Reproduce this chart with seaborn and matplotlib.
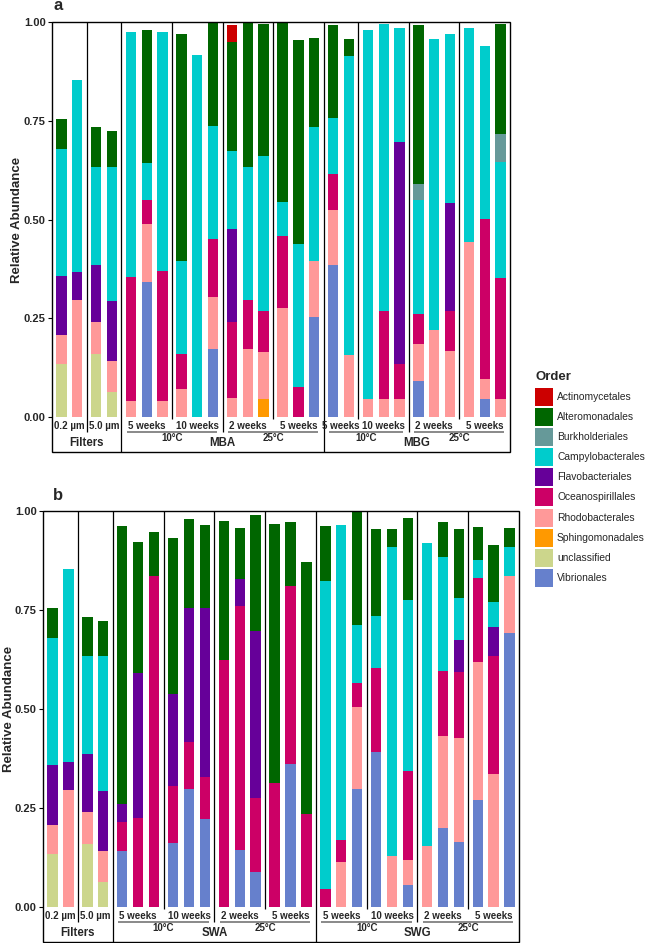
import numpy as np
import pandas as pd
import matplotlib
matplotlib.use("Agg")
import matplotlib.pyplot as plt
import seaborn as sns
from matplotlib.patches import Rectangle

# --- Orders (legend) and colours ---
orders = ["Actinomycetales", "Alteromonadales", "Burkholderiales", "Campylobacterales",
          "Flavobacteriales", "Oceanospirillales", "Rhodobacterales", "Sphingomonadales",
          "unclassified", "Vibrionales"]
order_colors = ["#CC0000", "#006600", "#669999", "#00CCCC", "#660099",
                "#CC0066", "#FF9999", "#FF9900", "#CCD68C", "#6680CC"]

# --- Panel a: strip labels ---
a_facets = ["0.2 µm", "5.0 µm", "5 weeks", "10 weeks", "2 weeks", "5 weeks",
            "5 weeks", "10 weeks", "2 weeks", "5 weeks"]
a_facet_n = [2, 2, 3, 3, 3, 3, 2, 3, 3, 3]
a_temps = [None, None, "10°C", "10°C", "25°C", "25°C", "10°C", "10°C", "25°C", "25°C"]
a_sites = ["Filters", "Filters", "MBA", "MBA", "MBA", "MBA", "MBG", "MBG", "MBG", "MBG"]

# --- Panel a: relative abundance per order (one value per bar) ---
a_actino = [0, 0, 0, 0, 0, 0, 0, 0, 0, 0, 0.043, 0, 0, 0, 0, 0, 0, 0, 0, 0, 0, 0, 0, 0, 0, 0, 0]
a_altero = [0.076, 0, 0.099, 0.089, 0, 0.339, 0, 0.574, 0, 0.263, 0.275, 0.368, 0.334,
            0.455, 0.515, 0.226, 0.236, 0.044, 0, 0, 0, 0.402, 0, 0, 0, 0, 0.280]
a_burk = [0, 0, 0, 0, 0, 0, 0, 0, 0, 0, 0, 0, 0, 0, 0, 0, 0, 0, 0, 0, 0, 0.041, 0, 0, 0, 0, 0.070]
a_campy = [0.321, 0.487, 0.248, 0.341, 0.621, 0.093, 0.605, 0.236, 0.916, 0.286, 0.198, 0.335,
           0.393, 0.087, 0.363, 0.337, 0.141, 0.757, 0.936, 0.727, 0.289, 0.288, 0.736, 0.427,
           0.542, 0.438, 0.295]
a_flavo = [0.150, 0.072, 0.146, 0.152, 0, 0, 0, 0, 0, 0, 0.235, 0, 0, 0, 0, 0, 0, 0,
           0, 0, 0.564, 0, 0, 0.274, 0, 0, 0]
a_oceano = [0, 0, 0, 0, 0.314, 0.060, 0.329, 0.088, 0, 0.148, 0.194, 0.125, 0.104, 0.182,
            0.076, 0, 0.091, 0, 0, 0.224, 0.088, 0.077, 0, 0.101, 0, 0.405, 0.305]
a_rhodo = [0.074, 0.295, 0.081, 0.077, 0.040, 0.148, 0.041, 0.072, 0, 0.131, 0.047, 0.172,
           0.120, 0.276, 0, 0.142, 0.139, 0.156, 0.045, 0.045, 0.045, 0.095, 0.220, 0.168,
           0.444, 0.052, 0.046]
a_sphingo = [0, 0, 0, 0, 0, 0, 0, 0, 0, 0, 0, 0, 0.045, 0, 0, 0, 0, 0, 0, 0, 0, 0, 0, 0, 0, 0, 0]
a_unclass = [0.134, 0, 0.159, 0.064, 0, 0, 0, 0, 0, 0, 0, 0, 0, 0, 0, 0, 0, 0, 0, 0, 0, 0,
             0, 0, 0, 0, 0]
a_vibrio = [0, 0, 0, 0, 0, 0.341, 0, 0, 0, 0.172, 0, 0, 0, 0, 0, 0.254, 0.385, 0, 0, 0, 0,
            0.090, 0, 0, 0, 0.045, 0]

# --- Panel b: strip labels ---
b_facets = ["0.2 µm", "5.0 µm", "5 weeks", "10 weeks", "2 weeks", "5 weeks",
            "5 weeks", "10 weeks", "2 weeks", "5 weeks"]
b_facet_n = [2, 2, 3, 3, 3, 3, 3, 3, 3, 3]
b_temps = [None, None, "10°C", "10°C", "25°C", "25°C", "10°C", "10°C", "25°C", "25°C"]
b_sites = ["Filters", "Filters", "SWA", "SWA", "SWA", "SWA", "SWG", "SWG", "SWG", "SWG"]

# --- Panel b: relative abundance per order ---
b_altero = [0.076, 0, 0.099, 0.089, 0.702, 0.331, 0.110, 0.394, 0.225, 0.209, 0.350, 0.128,
            0.293, 0.656, 0.161, 0.634, 0.139, 0, 0.286, 0.220, 0.046, 0.208, 0, 0.087,
            0.175, 0.083, 0.143, 0.049]
b_campy = [0.321, 0.487, 0.248, 0.341, 0, 0, 0, 0, 0, 0, 0, 0, 0, 0, 0, 0, 0.778, 0.797,
           0.147, 0.130, 0.780, 0.431, 0.765, 0.288, 0.106, 0.045, 0.062, 0.071]
b_flavo = [0.150, 0.072, 0.146, 0.152, 0.046, 0.365, 0, 0.231, 0.340, 0.427, 0, 0.068,
           0.421, 0, 0, 0, 0, 0, 0, 0, 0, 0, 0, 0, 0.081, 0, 0.074, 0]
b_oceano = [0, 0, 0, 0, 0.074, 0.226, 0.836, 0.144, 0.119, 0.107, 0.624, 0.617, 0.187,
            0.312, 0.449, 0.236, 0.046, 0.054, 0.060, 0.212, 0, 0.225, 0, 0.165, 0.165,
            0.214, 0.299, 0]
b_rhodo = [0.074, 0.295, 0.081, 0.077, 0, 0, 0, 0, 0, 0, 0, 0, 0, 0, 0, 0, 0, 0.114,
           0.208, 0, 0.128, 0.063, 0.153, 0.231, 0.265, 0.349, 0.335, 0.145]
b_unclass = [0.134, 0, 0.159, 0.064, 0, 0, 0, 0, 0, 0, 0, 0, 0, 0, 0, 0, 0, 0, 0, 0, 0, 0,
             0, 0, 0, 0, 0, 0]
b_vibrio = [0, 0, 0, 0, 0.141, 0, 0, 0.162, 0.297, 0.222, 0, 0.143, 0.088, 0, 0.361, 0,
            0, 0, 0.297, 0.392, 0, 0.056, 0, 0.200, 0.163, 0.269, 0, 0.692]

a_layers = {"Actinomycetales": a_actino, "Alteromonadales": a_altero,
            "Burkholderiales": a_burk, "Campylobacterales": a_campy,
            "Flavobacteriales": a_flavo, "Oceanospirillales": a_oceano,
            "Rhodobacterales": a_rhodo, "Sphingomonadales": a_sphingo,
            "unclassified": a_unclass, "Vibrionales": a_vibrio}
b_layers = {"Alteromonadales": b_altero, "Campylobacterales": b_campy,
            "Flavobacteriales": b_flavo, "Oceanospirillales": b_oceano,
            "Rhodobacterales": b_rhodo, "unclassified": b_unclass, "Vibrionales": b_vibrio}

W, H = 650, 943
sns.set_theme(style="ticks")
plt.rcParams['font.family'] = ['Liberation Sans', 'DejaVu Sans']
palette = dict(zip(orders, order_colors))

fig = plt.figure(figsize=(W / 100, H / 100), dpi=100)


def draw_panel(rect_px, label_x, facets, facet_n, temps, sites, layers, letter):
    left, top, right, zero = rect_px
    ax = fig.add_axes([left / W, 1 - zero / H, (right - left) / W, (zero - top) / H])
    h_px = zero - top

    def fy(px):
        return -px / h_px

    starts = np.round(np.cumsum([0] + [n + 0.2 for n in facet_n[:-1]]), 3)
    pos = np.round(np.concatenate([s + 0.6 + np.arange(n) for s, n in zip(starts, facet_n)]), 3)
    ends = np.round(starts + np.array(facet_n) + 0.2, 3)
    total = ends[-1]

    rows = []
    for name, vals in layers.items():
        for p, v in zip(pos, vals):
            if v > 0:
                rows.append({"x": p, "Order": name, "value": v})
    df = pd.DataFrame(rows)
    edges = np.unique(np.round(np.concatenate([pos - 0.5, pos + 0.5]), 3)).tolist()
    hue_order = [o for o in orders if o in layers]
    sns.histplot(data=df, x="x", weights="value", hue="Order", hue_order=hue_order,
                 palette=palette, multiple="stack", bins=edges, shrink=0.65,
                 linewidth=0, alpha=1, legend=False, ax=ax)

    ax.set_xlim(0, total)
    ax.set_ylim(0, 1)
    ax.set_xticks([])
    ax.set_xlabel("")
    ax.set_yticks([0, 0.25, 0.5, 0.75, 1.0])
    ax.set_yticklabels(["0.00", "0.25", "0.50", "0.75", "1.00"], fontweight="bold")
    ax.tick_params(axis="y", labelsize=8, length=3, width=0.8, pad=1.5, color="black")
    ax.set_ylabel("Relative Abundance", fontsize=9.5, fontweight="bold")
    ax.yaxis.set_label_coords((label_x - left) / (right - left), 0.5)
    for s in ax.spines.values():
        s.set_visible(False)

    trans = ax.get_xaxis_transform()
    box_bot = fy(35.3)
    ax.add_patch(Rectangle((0, box_bot), 1, 1 - box_bot, transform=ax.transAxes,
                           fill=False, ec="black", lw=1, clip_on=False))

    # separators between facets
    for i in range(len(facet_n) - 1):
        b = ends[i]
        if sites[i] != sites[i + 1]:
            low = box_bot
        elif temps[i] != temps[i + 1] or temps[i] is None:
            low = fy(15)
        else:
            low = fy(1.5)
        ax.plot([b, b], [1, low], transform=trans, color="black", lw=0.9,
                clip_on=False, solid_capstyle="butt")

    # facet labels
    for s, e, lab in zip(starts, ends, facets):
        ax.text((s + e) / 2, fy(8.7), lab, transform=trans, ha="center", va="center",
                fontsize=7, fontweight="bold")

    # temperature groups (underline + label)
    i = 0
    while i < len(facet_n):
        j = i
        while j + 1 < len(facet_n) and temps[j + 1] == temps[i] and sites[j + 1] == sites[i]:
            j += 1
        if temps[i] is not None:
            s, e = starts[i], ends[j]
            ax.plot([s + 0.35, e - 0.35], [fy(15.3), fy(15.3)], transform=trans,
                    color="#808080", lw=1.3, clip_on=False, solid_capstyle="butt")
            ax.text((s + e) / 2, fy(21.3), temps[i], transform=trans, ha="center",
                    va="center", fontsize=7, fontweight="bold")
        i = j + 1

    # site groups
    i = 0
    while i < len(facet_n):
        j = i
        while j + 1 < len(facet_n) and sites[j + 1] == sites[i]:
            j += 1
        s, e = starts[i], ends[j]
        ax.text((s + e) / 2, fy(26.5), sites[i], transform=trans, ha="center",
                va="center", fontsize=8.3, fontweight="bold")
        i = j + 1

    fig.text(58 / W, 1 - (top - 16) / H, letter, ha="center", va="center",
             fontsize=12, fontweight="bold")
    return ax


draw_panel((52, 22, 510, 417), 23.5, a_facets, a_facet_n, a_temps, a_sites, a_layers, "a")
draw_panel((43, 511, 519, 907), 14.5, b_facets, b_facet_n, b_temps, b_sites, b_layers, "b")

# --- legend (drawn as figure patches so the keys are 18 px squares) ---
fig.text(535 / W, 1 - 377 / H, "Order", ha="left", va="center",
         fontsize=9.5, fontweight="bold")
for k, (name, col) in enumerate(zip(orders, order_colors)):
    yc = 397 + 20.1 * k
    fig.patches.append(Rectangle((535 / W, 1 - (yc + 9) / H), 18 / W, 18 / H,
                                 transform=fig.transFigure, fc=col, ec="none"))
    fig.text(557 / W, 1 - yc / H, name, ha="left", va="center", fontsize=7.4)

fig.savefig("out.png", dpi=100)
